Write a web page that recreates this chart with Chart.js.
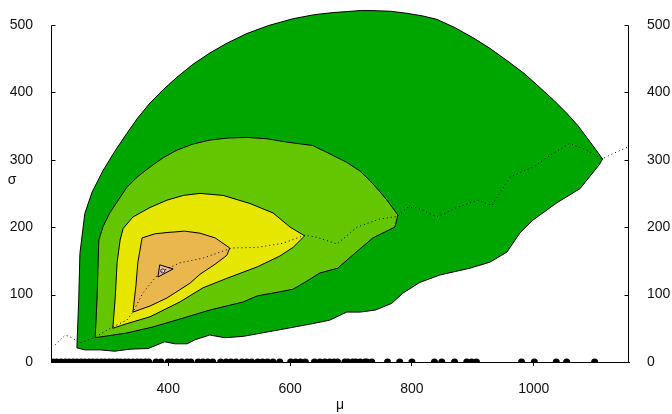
<!DOCTYPE html>
<html>
<head>
<meta charset="utf-8">
<script src="https://cdn.jsdelivr.net/npm/chart.js@4.4.1/dist/chart.umd.min.js"></script>
<style>
  body { margin: 0; background: #fff; }
  canvas { display: block; }
</style>
</head>
<body>
<canvas id="contourChart" width="672" height="414"></canvas>
<script>
// axis ticks
const muTicks = [400, 600, 800, 1000];
const sigmaTicks = [0, 100, 200, 300, 400, 500];

// contour outlines, [mu, sigma] pairs, outermost first
const level1 = [
  [250, 21], [253, 92], [255, 161], [263, 220], [275, 252], [293, 284], [312, 312],
  [332, 339], [350, 362], [370, 384], [392, 404], [414, 422], [440, 441], [468, 458],
  [497, 473], [529, 487], [565, 499], [605, 509], [640, 515], [670, 518], [715, 521],
  [736, 521], [765, 520], [792, 517], [818, 513], [841, 508], [870, 496], [900, 481],
  [928, 465], [956, 447], [984, 428], [1010, 407], [1033, 388], [1054, 369], [1072, 351],
  [1087, 333], [1101, 316], [1113, 301], [1108, 293], [1076, 257], [1038, 236], [998, 210],
  [977, 191], [956, 163], [928, 148], [895, 139], [846, 129], [813, 118], [785, 102],
  [767, 87], [740, 77], [715, 74], [693, 74], [665, 62], [632, 56], [578, 47], [523, 38],
  [493, 36], [468, 40], [444, 33], [431, 27], [411, 27], [394, 30], [378, 24], [367, 20],
  [337, 19], [312, 16], [288, 18], [263, 18], [250, 21]
];
const level2 = [
  [280, 36], [283, 92], [286, 181], [293, 201], [304, 221], [321, 244], [332, 259],
  [350, 275], [370, 289], [392, 303], [414, 314], [440, 323], [468, 329], [497, 332],
  [529, 333], [562, 331], [595, 326], [637, 321], [660, 311], [693, 296], [715, 283],
  [731, 269], [746, 254], [759, 240], [777, 218], [772, 200], [736, 184], [706, 161],
  [678, 139], [649, 132], [624, 118], [605, 108], [583, 104], [546, 98], [523, 89],
  [468, 77], [424, 65], [375, 52], [332, 43], [280, 36]
];
const level3 = [
  [309, 50], [313, 96], [316, 147], [321, 181], [326, 198], [342, 215], [370, 229],
  [398, 240], [425, 247], [452, 250], [490, 247], [534, 235], [572, 221], [600, 200],
  [624, 187], [605, 170], [583, 157], [546, 141], [496, 124], [457, 110], [419, 89],
  [370, 67], [329, 56], [309, 50]
];
const level4 = [
  [342, 74], [347, 114], [350, 147], [357, 184], [378, 190], [398, 192], [427, 194],
  [452, 191], [477, 184], [501, 169], [496, 158], [477, 145], [452, 130], [436, 117],
  [398, 95], [370, 83], [342, 74]
];
const level5 = [[386, 144], [408, 138], [383, 126], [386, 144]];
const peak = [[391, 135]];

// profile line (dotted)
const ridge = [
  [214, 25], [231, 40], [242, 36], [255, 28], [280, 37], [309, 52], [332, 62], [342, 74],
  [358, 102], [375, 121], [386, 133], [419, 147], [457, 154], [504, 169], [546, 170],
  [588, 176], [624, 188], [644, 185], [677, 175], [710, 200], [747, 212], [777, 216],
  [792, 229], [808, 229], [841, 215], [874, 229], [908, 240], [931, 232], [961, 274],
  [999, 289], [1031, 309], [1059, 324], [1087, 314], [1112, 301], [1130, 309], [1153, 318]
];

// observations along the mu axis
const observations = [
  211, 217, 224, 231, 237, 244, 250, 257, 263, 270, 276, 283, 290, 296, 303, 309, 316,
  322, 329, 335, 342, 349, 355, 362, 368, 380, 388, 400, 406, 414, 422, 431, 437, 449,
  457, 465, 473, 486, 495, 503, 511, 521, 529, 537, 547, 555, 563, 572, 583, 601, 609,
  617, 625, 640, 649, 657, 665, 672, 678, 690, 695, 703, 708, 715, 723, 726, 734, 760,
  780, 800, 837, 849, 870, 890, 898, 906, 980, 1001, 1037, 1054, 1100
];

const levelColors = ["#00A600", "#63C600", "#E6E600", "#EAB64E", "#EEB99F"];

const toXY = (pts) => pts.map((p) => ({ x: p[0], y: p[1] }));

function contourSet(pts, color, order) {
  return {
    data: toXY(pts),
    backgroundColor: color,
    borderColor: "#000",
    borderWidth: 1,
    pointRadius: 0,
    fill: "shape",
    tension: 0,
    order: order,
  };
}

const contourDatasets = [level1, level2, level3, level4, level5].map((pts, i) =>
  contourSet(pts, levelColors[i], 10 - i)
);

// left/right axis lines with inward ticks, plus the upright sigma label
const framePlugin = {
  id: "frame",
  afterDraw(chart) {
    const { ctx, chartArea, scales } = chart;
    const y = scales.y;
    ctx.save();
    ctx.strokeStyle = "#000";
    ctx.lineWidth = 1;
    ctx.beginPath();
    [chartArea.left + 0.5, chartArea.right - 0.5].forEach((x, i) => {
      ctx.moveTo(x, Math.round(y.getPixelForValue(500)) + 0.5);
      ctx.lineTo(x, Math.round(y.getPixelForValue(0)) + 0.5);
      sigmaTicks.forEach((v) => {
        const py = Math.round(y.getPixelForValue(v)) + 0.5;
        ctx.moveTo(x, py);
        ctx.lineTo(x + (i ? -4 : 4), py);
      });
    });
    ctx.stroke();
    ctx.fillStyle = "#111";
    ctx.font = '14px "Liberation Sans"';
    ctx.textAlign = "center";
    ctx.textBaseline = "middle";
    ctx.fillText("σ", 12, 180);
    ctx.restore();
  },
};

const tickFont = { family: "Liberation Sans", size: 14 };
const plainLabel = (v) => String(v);

const ctx = document.getElementById("contourChart").getContext("2d");
const contourChart = new Chart(ctx, {
  type: "line",
  data: {
    datasets: [
      {
        data: observations.map((m) => ({ x: m, y: 0 })),
        showLine: false,
        pointRadius: 3.5,
        pointBackgroundColor: "#000",
        pointBorderWidth: 0,
        clip: 0,
        order: 0,
      },
      {
        data: toXY(ridge),
        borderColor: "#000",
        borderWidth: 1,
        borderDash: [1, 3],
        pointRadius: 0,
        fill: false,
        order: 1,
      },
      {
        data: toXY(peak),
        showLine: false,
        pointRadius: 2,
        pointBackgroundColor: "#F2F2F2",
        pointBorderColor: "#000",
        pointBorderWidth: 0.8,
        order: 2,
      },
      ...contourDatasets,
    ],
  },
  options: {
    responsive: false,
    animation: false,
    layout: { padding: 0 },
    plugins: {
      legend: { display: false },
      tooltip: { enabled: false },
    },
    scales: {
      x: {
        type: "linear",
        min: 207.5,
        max: 1156.4,
        afterBuildTicks: (scale) => {
          scale.ticks = muTicks.map((v) => ({ value: v }));
        },
        afterFit: (scale) => {
          scale.height = 52;
        },
        grid: {
          display: true,
          drawOnChartArea: false,
          drawTicks: true,
          tickLength: 4,
          color: "#000",
        },
        border: { display: true, color: "#000", width: 1 },
        ticks: { font: tickFont, color: "#111", padding: 15, maxRotation: 0, callback: plainLabel },
        title: {
          display: true,
          text: "μ",
          font: tickFont,
          color: "#111",
          padding: { top: 0, bottom: 0 },
        },
      },
      y: {
        type: "linear",
        position: "left",
        min: 0,
        max: 529.6,
        afterBuildTicks: (scale) => {
          scale.ticks = sigmaTicks.map((v) => ({ value: v }));
        },
        afterFit: (scale) => {
          scale.width = 51;
          scale.paddingTop = 0;
          scale.paddingBottom = 0;
        },
        grid: { display: false, drawTicks: false },
        border: { display: false },
        ticks: { font: tickFont, color: "#111", padding: 18, callback: plainLabel },
      },
      y2: {
        type: "linear",
        position: "right",
        min: 0,
        max: 529.6,
        afterBuildTicks: (scale) => {
          scale.ticks = sigmaTicks.map((v) => ({ value: v }));
        },
        afterFit: (scale) => {
          scale.width = 43;
          scale.paddingTop = 0;
          scale.paddingBottom = 0;
        },
        grid: { display: false, drawTicks: false },
        border: { display: false },
        ticks: { font: tickFont, color: "#111", padding: 18, callback: plainLabel },
      },
    },
  },
  plugins: [framePlugin],
});
</script>
</body>
</html>
